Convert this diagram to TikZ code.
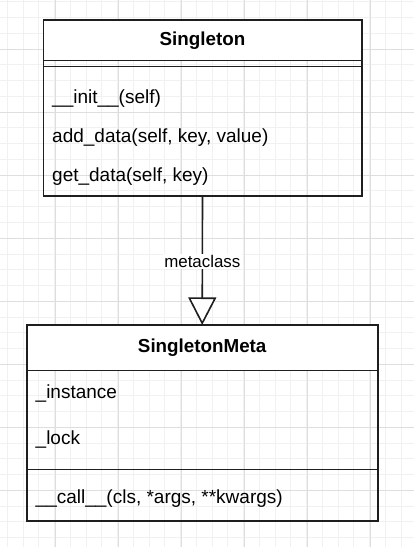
\documentclass[tikz,border=0pt]{standalone}
\usepackage{fontspec}
\setmainfont{Liberation Sans}
\usetikzlibrary{arrows.meta}
\definecolor{gridminor}{HTML}{F1F1F1}
\definecolor{gridmajor}{HTML}{DEDEDE}
\definecolor{boxline}{HTML}{1E1E1E}
\tikzset{
  boxpart/.style={draw=boxline, line width=1.6bp, inner sep=0pt, outer sep=0pt, anchor=north west},
  headpart/.style={boxpart, fill=white},
  headtxt/.style={anchor=base, inner sep=0pt, font=\fontsize{18.8bp}{22bp}\selectfont\bfseries},
  membertxt/.style={anchor=base west, inner sep=0pt, font=\fontsize{19bp}{22bp}\selectfont},
  labeltxt/.style={fill=white, inner sep=1.5bp, font=\fontsize{16.9bp}{20bp}\selectfont},
  sepline/.style={draw=boxline, line width=1.6bp},
  inherit/.style={draw=boxline, line width=1.6bp, -{Triangle[fill=white, width=28bp, length=27.6bp, line width=1.6bp]}}
}
\begin{document}
\begin{tikzpicture}[x=1bp, y=-1bp]
\useasboundingbox[fill=white] (0,0) rectangle (414,547);
% grid
\foreach \i in {0,...,26} {
  \draw[gridminor, line width=1bp] ({7.3+15.75*\i},0) -- ({7.3+15.75*\i},547);
}
\foreach \i in {0,...,34} {
  \draw[gridminor, line width=1bp] (0,{2+15.75*\i}) -- (414,{2+15.75*\i});
}
\foreach \i in {0,...,5} {
  \draw[gridmajor, line width=1bp] ({55+63*\i},0) -- ({55+63*\i},547);
}
\foreach \i in {0,...,7} {
  \draw[gridmajor, line width=1bp] (0,{49.3+63*\i}) -- (414,{49.3+63*\i});
}
% Singleton class
\node[headpart, minimum width=318.4bp, minimum height=40.7bp] (sgHead) at (43.3,20) {};
\node[boxpart, minimum width=318.4bp, minimum height=135bp] (sgBody) at (43.3,60.7) {};
\draw[sepline] ([yshift=-6bp]sgBody.north west) -- ([yshift=-6bp]sgBody.north east);
\node[headtxt] (sgTitle) at (202.5,46) {Singleton};
\node[membertxt] (sgInit) at (52,104) {\_\_init\_\_(self)};
\node[membertxt] (sgAdd) at (52,142.7) {add\_data(self, key, value)};
\node[membertxt] (sgGet) at (52,181.7) {get\_data(self, key)};
% SingletonMeta class
\node[headpart, minimum width=351bp, minimum height=45.5bp] (mtHead) at (26.7,325) {};
\node[boxpart, minimum width=351bp, minimum height=99bp] (mtAttr) at (26.7,370.5) {};
\node[boxpart, minimum width=351bp, minimum height=51.5bp] (mtOps) at (26.7,469.5) {};
\node[headtxt] (mtTitle) at (202.2,352.3) {SingletonMeta};
\node[membertxt] (mtInst) at (35.5,398.3) {\_instance};
\node[membertxt] (mtLock) at (35.5,444.3) {\_lock};
\node[membertxt] (mtCall) at (35.5,503.3) {\_\_call\_\_(cls, *args, **kwargs)};
% metaclass relation
\draw[inherit] (sgBody.south) -- node[labeltxt, pos=0.51] (mcLabel) {metaclass} (mtHead.north);
\end{tikzpicture}
\end{document}
